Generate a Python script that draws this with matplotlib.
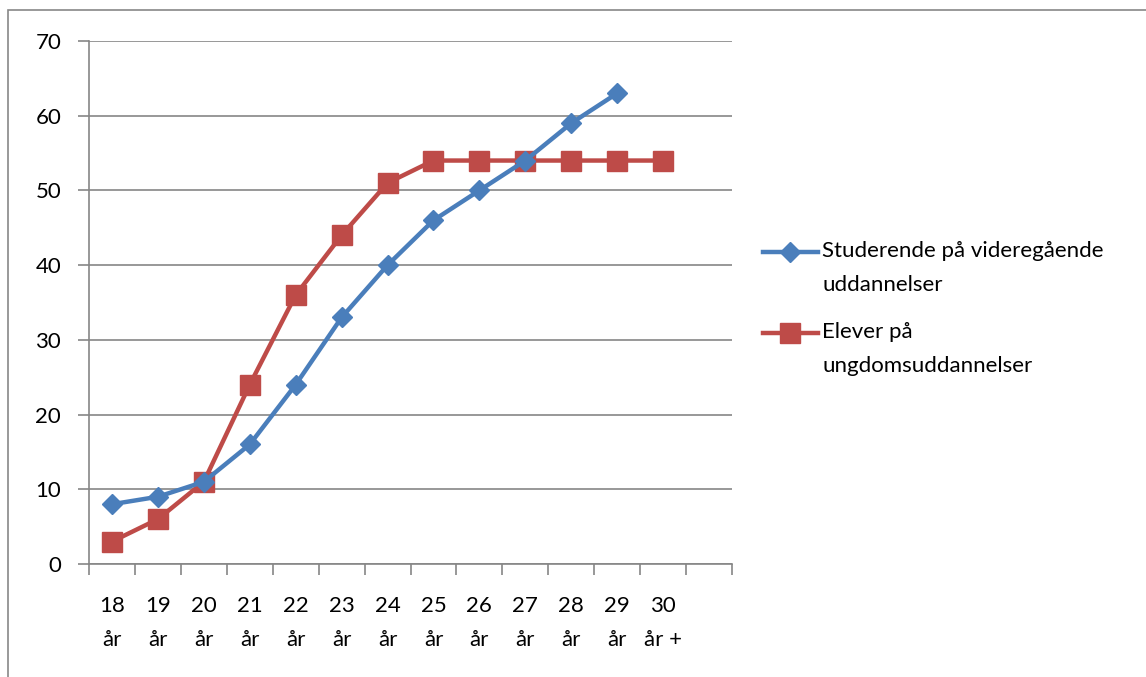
import numpy as np
import matplotlib
matplotlib.use("Agg")
import matplotlib.pyplot as plt
from matplotlib.patches import Rectangle
from matplotlib.lines import Line2D

plt.rcParams['font.family'] = ['Lato', 'DejaVu Sans']

# categories (last slot is empty in the original)
ages = ["18\når", "19\når", "20\når", "21\når", "22\når", "23\når", "24\når",
        "25\når", "26\når", "27\når", "28\når", "29\når", "30\når +", ""]
studerende = [8, 9, 11, 16, 24, 33, 40, 46, 50, 54, 59, 63]
elever = [3, 6, 11, 24, 36, 44, 51, 54, 54, 54, 54, 54, 54]

label_stud = "Studerende på videregående\nuddannelser"
label_elev = "Elever på\nungdomsuddannelser"

blue = '#4A7EBB'
red = '#BE4B48'
grid = '#868686'
fs = 16

fig = plt.figure(figsize=(11.46, 6.77), dpi=100)
W, H = 1146, 677
ax = fig.add_axes([89 / W, 1 - 564 / H, (732 - 89) / W, (564 - 41) / H])

x = np.arange(len(ages))
styles = [
    (studerende, blue, 'D', 10.5, label_stud, 4),
    (elever, red, 's', 14.5, label_elev, 3),
]
for vals, col, mk, ms, lab, z in styles:
    ax.plot(x[:len(vals)], vals, color=col, lw=3.2, marker=mk, ms=ms,
            mec=col, zorder=z, solid_joinstyle='round')

ax.set_xlim(-0.5, len(ages) - 0.5)
ax.set_ylim(0, 70)
ax.set_yticks(np.arange(0, 71, 10))
ax.yaxis.grid(True, color=grid, lw=1.2)
ax.set_axisbelow(True)

ax.set_xticks(x)
ax.set_xticklabels(ages, fontsize=fs, linespacing=1.85, va='top')
ax.set_xticks(np.arange(-0.5, len(ages)), minor=True)
ax.tick_params(axis='x', which='major', length=0, pad=23)
ax.tick_params(axis='x', which='minor', length=8, color=grid, width=1.2, direction='out')
ax.tick_params(axis='y', length=8, color=grid, width=1.2, pad=12, labelsize=fs)

for s in ['top', 'right']:
    ax.spines[s].set_visible(False)
for s in ['left', 'bottom']:
    ax.spines[s].set_color(grid)
    ax.spines[s].set_linewidth(1.2)

# legend, laid out like the original (marker level with the first text line)
leg_y = [252, 333]
for (vals, col, mk, ms, lab, z), yy in zip(styles, leg_y):
    yf = 1 - yy / H
    fig.add_artist(Line2D([763 / W, 790 / W, 818 / W], [yf, yf, yf],
                          color=col, lw=3.2, marker=mk, ms=ms, mec=col,
                          markevery=[1], transform=fig.transFigure))
    fig.text(822 / W, 1 - (yy - 11) / H, lab, fontsize=fs, va='top', ha='left',
             linespacing=1.85, transform=fig.transFigure)

fig.patches.append(Rectangle((8 / W, -0.05), 1.2, 1 - 10 / H + 0.05,
                             transform=fig.transFigure, fill=False,
                             edgecolor='#888888', lw=1.2))

fig.savefig('out.png', dpi=100)
